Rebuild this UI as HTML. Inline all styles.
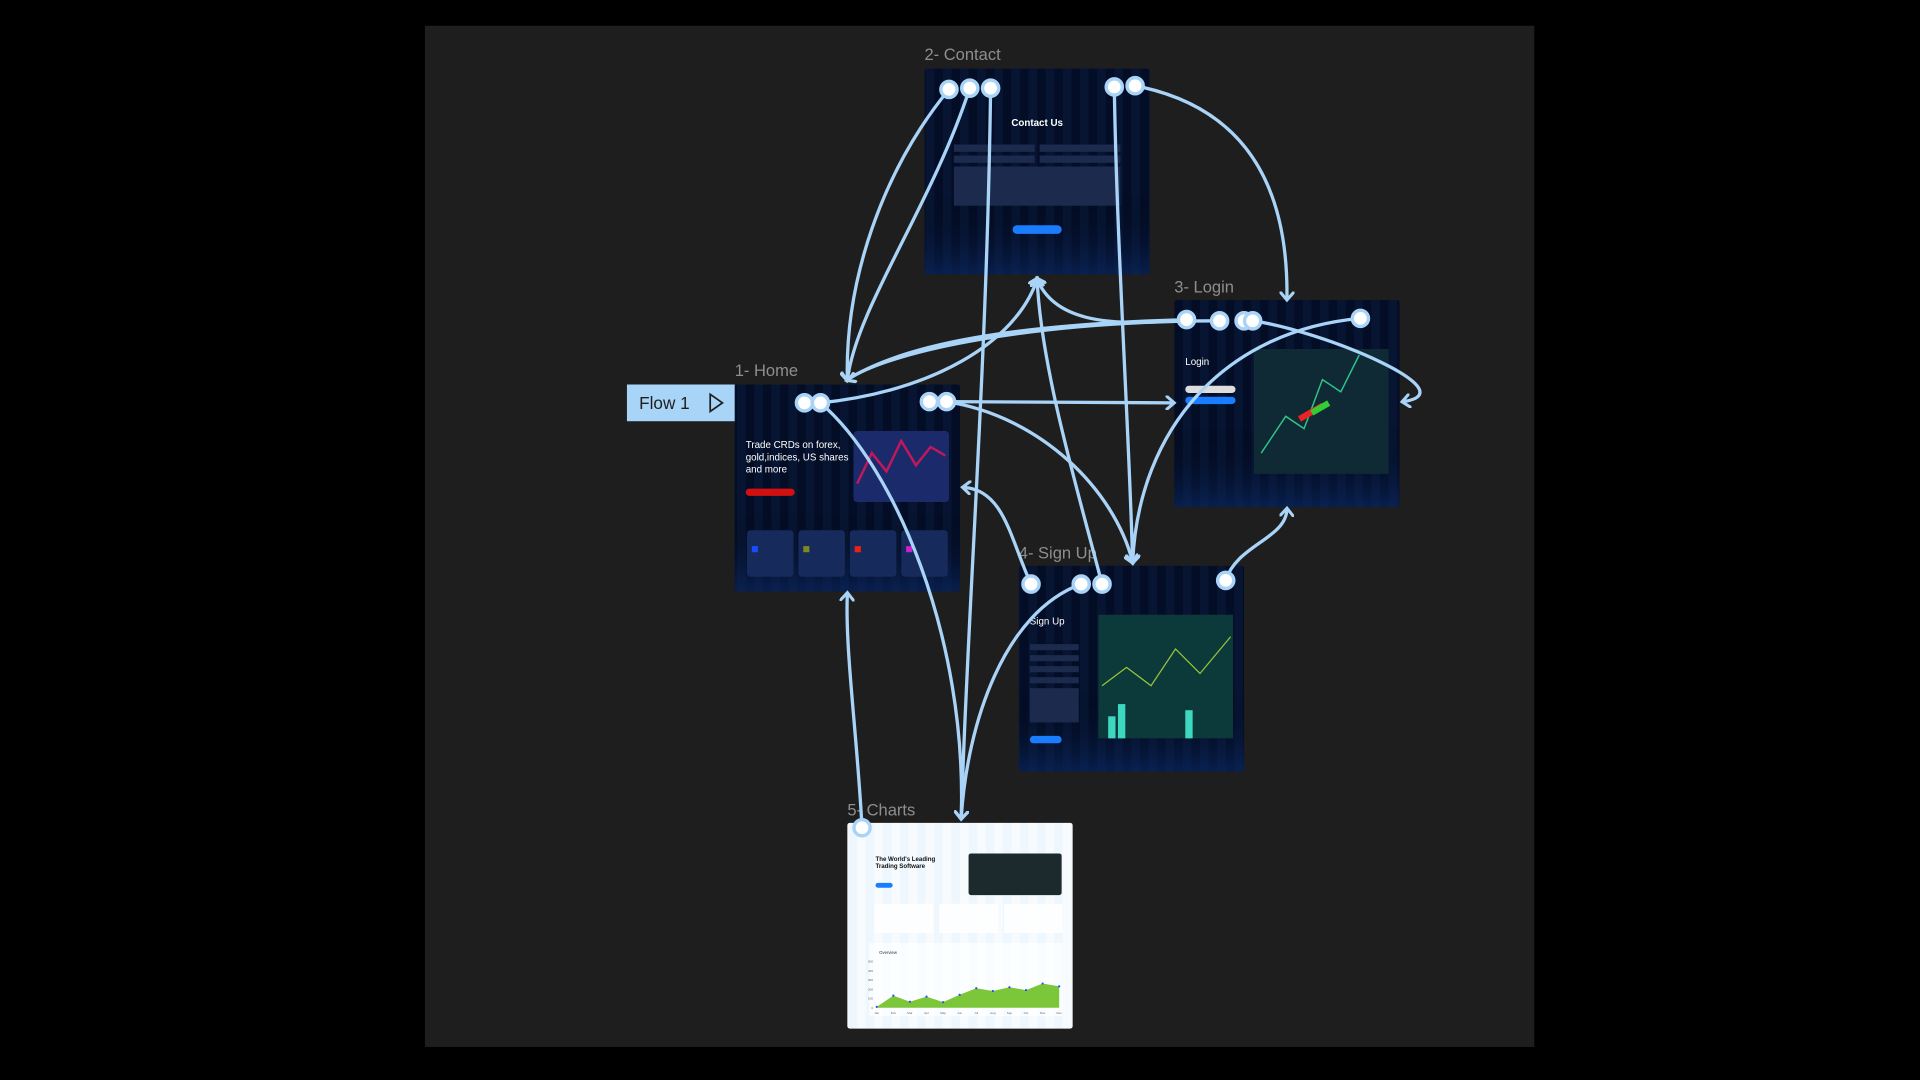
<!DOCTYPE html>
<html><head><meta charset="utf-8"><style>
html,body{margin:0;padding:0;background:#000;width:1920px;height:1080px;overflow:hidden}
svg{display:block}
text{font-family:"Liberation Sans",sans-serif}
</style></head><body>
<svg width="1920" height="1080" viewBox="0 0 1568 882" xmlns="http://www.w3.org/2000/svg">
<defs>
<marker id="ah" markerWidth="12" markerHeight="12" refX="6" refY="6" orient="auto" markerUnits="userSpaceOnUse" viewBox="0 0 12 12">
<path d="M0,0 L7,6 L0,12" fill="none" stroke="#a9d3f7" stroke-width="2.5"/></marker>
<pattern id="stripes" width="14" height="10" patternUnits="userSpaceOnUse"><rect width="14" height="10" fill="#030d26"/><rect width="7" height="10" fill="#071533"/></pattern>
<linearGradient id="fade" x1="0" y1="0" x2="0" y2="1"><stop offset="0.6" stop-color="#000" stop-opacity="0"/><stop offset="1" stop-color="#0b2a66" stop-opacity="0.6"/></linearGradient>
<pattern id="lstripes" width="14" height="10" patternUnits="userSpaceOnUse"><rect width="14" height="10" fill="#eef7fd"/><rect width="7" height="10" fill="#f7fbfe"/></pattern>
</defs>
<rect x="347" y="21" width="906" height="834" fill="#1e1e1e"/>

<g>
<text x="755" y="49" fill="#8e8e8e" font-size="13.5">2- Contact</text>
<rect x="755" y="56" width="184" height="168" rx="2" fill="url(#stripes)"/>
<rect x="755" y="56" width="184" height="168" rx="2" fill="url(#fade)"/>
<text x="847" y="103" fill="#fff" font-size="8" text-anchor="middle" font-weight="bold">Contact Us</text>
<rect x="779" y="118" width="66" height="6" fill="#1b2a4d"/><rect x="849" y="118" width="66" height="6" fill="#1b2a4d"/>
<rect x="779" y="127" width="66" height="6" fill="#1b2a4d"/><rect x="849" y="127" width="66" height="6" fill="#1b2a4d"/>
<rect x="779" y="136" width="136" height="32" fill="#1b2a4d"/>
<rect x="827" y="184" width="40" height="7" rx="3.5" fill="#1a7cff"/>
</g>

<g>
<text x="959" y="239" fill="#8e8e8e" font-size="13.5">3- Login</text>
<rect x="959" y="245" width="184" height="169" rx="2" fill="url(#stripes)"/>
<rect x="959" y="245" width="184" height="169" rx="2" fill="url(#fade)"/>
<text x="968" y="298" fill="#fff" font-size="8">Login</text>
<rect x="968" y="315" width="41" height="6" rx="3" fill="#ddd"/>
<rect x="968" y="324" width="41" height="6" rx="3" fill="#1a7cff"/>
<rect x="1024" y="285" width="110" height="102" fill="#0f2a35"/>
<path d="M1030,370 L1050,340 L1065,350 L1080,310 L1095,320 L1110,290" stroke="#2fc48a" fill="none" stroke-width="1.2"/>
<rect x="1060" y="340" width="22" height="5" fill="#e22" transform="rotate(-30 1060 340)"/>
<rect x="1070" y="335" width="16" height="5" fill="#3c3" transform="rotate(-30 1070 335)"/>
</g>

<g>
<text x="600" y="307" fill="#8e8e8e" font-size="13.5">1- Home</text>
<rect x="600" y="314" width="184" height="169" rx="2" fill="url(#stripes)"/>
<rect x="600" y="314" width="184" height="169" rx="2" fill="url(#fade)"/>
<text x="609" y="366" fill="#fff" font-size="8">Trade CRDs on forex,</text>
<text x="609" y="376" fill="#fff" font-size="8">gold,indices, US shares</text>
<text x="609" y="386" fill="#fff" font-size="8">and more</text>
<rect x="609" y="399" width="40" height="6" rx="3" fill="#d21010"/>
<rect x="697" y="352" width="78" height="58" rx="3" fill="#1a2a6a"/>
<path d="M700,395 L712,370 L724,385 L736,360 L748,380 L760,365 L772,372" stroke="#c2185b" fill="none" stroke-width="2"/>
<g>
<rect x="610" y="433" width="38" height="38" rx="3" fill="#172a5c"/>
<rect x="652" y="433" width="38" height="38" rx="3" fill="#172a5c"/>
<rect x="694" y="433" width="38" height="38" rx="3" fill="#172a5c"/>
<rect x="736" y="433" width="38" height="38" rx="3" fill="#172a5c"/>
<rect x="614" y="446" width="5" height="5" fill="#1a4cff"/><rect x="656" y="446" width="5" height="5" fill="#7a8a20"/>
<rect x="698" y="446" width="5" height="5" fill="#e21"/><rect x="740" y="446" width="5" height="5" fill="#c2c"/>
</g>
</g>

<g>
<rect x="512" y="314" width="88" height="30" fill="#a8d4f8"/>
<text x="522" y="334" fill="#1e1e1e" font-size="14">Flow 1</text>
<path d="M580,322 L590,329 L580,336 Z" fill="none" stroke="#1e1e1e" stroke-width="1.4"/>
</g>

<g>
<text x="832" y="456" fill="#8e8e8e" font-size="13.5">4- Sign Up</text>
<rect x="832" y="462" width="184" height="168" rx="2" fill="url(#stripes)"/>
<rect x="832" y="462" width="184" height="168" rx="2" fill="url(#fade)"/>
<text x="841" y="510" fill="#fff" font-size="8">Sign Up</text>
<rect x="841" y="526" width="40" height="5" fill="#1b2a4d"/><rect x="841" y="535" width="40" height="5" fill="#1b2a4d"/>
<rect x="841" y="544" width="40" height="5" fill="#1b2a4d"/><rect x="841" y="553" width="40" height="5" fill="#1b2a4d"/>
<rect x="841" y="562" width="40" height="28" fill="#1b2a4d"/>
<rect x="841" y="601" width="26" height="6" rx="3" fill="#1a7cff"/>
<rect x="897" y="502" width="110" height="101" fill="#0c3a3a"/>
<path d="M900,560 L920,545 L940,560 L960,530 L980,550 L1005,520" stroke="#9cc33a" fill="none" stroke-width="1"/>
<rect x="905" y="585" width="6" height="18" fill="#3ed8c0"/><rect x="913" y="575" width="6" height="28" fill="#3ed8c0"/><rect x="968" y="580" width="6" height="23" fill="#3ed8c0"/>
</g>

<g>
<text x="692" y="666" fill="#8e8e8e" font-size="13.5">5- Charts</text>
<rect x="692" y="672" width="184" height="168" rx="2" fill="url(#lstripes)"/>
<text x="715" y="703" fill="#111" font-size="5" font-weight="bold">The World's Leading</text>
<text x="715" y="709" fill="#111" font-size="5" font-weight="bold">Trading Software</text>
<rect x="715" y="721" width="14" height="4" rx="2" fill="#1a7cff"/>
<rect x="791" y="697" width="76" height="34" rx="2" fill="#1c2a2d"/>
<rect x="714" y="738" width="48" height="24" fill="#fff" opacity="0.8"/>
<rect x="767" y="738" width="48" height="24" fill="#fff" opacity="0.8"/>
<rect x="820" y="738" width="48" height="24" fill="#fff" opacity="0.8"/>
<rect x="710" y="770" width="158" height="60" fill="#fff" opacity="0.7"/>
<text x="718" y="779" fill="#333" font-size="3.5">Overview</text>
<g id="mini-chart"></g>
</g>

<g id="links"></g>
<g id="hotspots"></g>
</svg>
<script>
const months = ['Jan','Feb','Mar','Apr','May','Jun','Jul','Aug','Sep','Oct','Nov','Dec'];
const overviewValues = [10, 130, 65, 120, 60, 140, 210, 180, 220, 190, 260, 230];
const yTicks = [0, 100, 200, 300, 400, 500];
(function(){
  const NS='http://www.w3.org/2000/svg';
  const g=document.getElementById('mini-chart');
  const x0=716,x1=865,yb=823,yt=785,maxV=500;
  const xs=i=>x0+(x1-x0)*i/(months.length-1);
  const ys=v=>yb-(yb-yt)*v/maxV;
  let d='M'+xs(0)+','+yb;
  overviewValues.forEach((v,i)=>{d+=' L'+xs(i)+','+ys(v);});
  d+=' L'+xs(months.length-1)+','+yb+' Z';
  const p=document.createElementNS(NS,'path');
  p.setAttribute('d',d);p.setAttribute('fill','#7cc63a');
  
  
  g.appendChild(p);
  overviewValues.forEach((v,i)=>{
    const c=document.createElementNS(NS,'circle');
    c.setAttribute('cx',xs(i));c.setAttribute('cy',ys(v));c.setAttribute('r',0.9);c.setAttribute('fill','#2a4bff');
    
    
    g.appendChild(c);
  });
  yTicks.forEach(t=>{
    const tx=document.createElementNS(NS,'text');
    tx.setAttribute('x',713);tx.setAttribute('y',ys(t)+1);tx.setAttribute('font-size','2.5');tx.setAttribute('fill','#666');tx.setAttribute('text-anchor','end');
    tx.textContent=t;
    
    
    g.appendChild(tx);
  });
  months.forEach((m,i)=>{
    const tx=document.createElementNS(NS,'text');
    tx.setAttribute('x',xs(i));tx.setAttribute('y',yb+5);tx.setAttribute('font-size','2.5');tx.setAttribute('fill','#666');tx.setAttribute('text-anchor','middle');
    tx.textContent=m;
    
    
    g.appendChild(tx);
  });

  const links=[
    'M775,73 C720,140 690,230 692,310',
    'M792,72 C760,170 700,250 692,310',
    'M809,72 C806,300 790,500 785,668',
    'M910,71 C912,200 922,350 925,459',
    'M927,70 C1030,90 1052,170 1051,244',
    'M670,329 C760,320 830,280 847,228',
    'M670,329 C730,380 790,520 785,668',
    'M773,328 L958,329',
    'M773,328 C850,340 910,400 925,459',
    'M969,261 C900,268 860,260 847,228',
    'M969,261 C830,265 740,280 692,310',
    'M996,262 C850,262 730,285 692,310',
    'M1023,262 C1080,270 1200,320 1146,328',
    'M1111,260 C1000,270 930,350 925,459',
    'M842,477 C825,440 820,400 787,398',
    'M883,477 C820,500 790,590 785,668',
    'M900,477 C880,400 850,300 847,228',
    'M1001,474 C1010,445 1050,440 1051,416',
    'M704,676 C700,600 690,530 692,485'
  ];
  const L=document.getElementById('links');
  links.forEach(d=>{
    const p=document.createElementNS(NS,'path');
    p.setAttribute('d',d);p.setAttribute('fill','none');p.setAttribute('stroke','#a9d3f7');p.setAttribute('stroke-width','2.7');
    p.setAttribute('marker-end','url(#ah)');
    
    
    L.appendChild(p);
  });
  const spots=[[775,73],[792,72],[809,72],[910,71],[927,70],[657,329],[670,329],[759,328],[773,328],
    [969,261],[996,262],[1016,262],[1023,262],[1111,260],[842,477],[883,477],[900,477],[1001,474],[704,676]];
  const H=document.getElementById('hotspots');
  spots.forEach(s=>{
    const c=document.createElementNS(NS,'circle');
    c.setAttribute('cx',s[0]);c.setAttribute('cy',s[1]);c.setAttribute('r',6.6);
    c.setAttribute('fill','#fff');c.setAttribute('stroke','#a9d3f7');c.setAttribute('stroke-width','2.8');
    
    
    H.appendChild(c);
  });
})();
</script>
</body></html>
